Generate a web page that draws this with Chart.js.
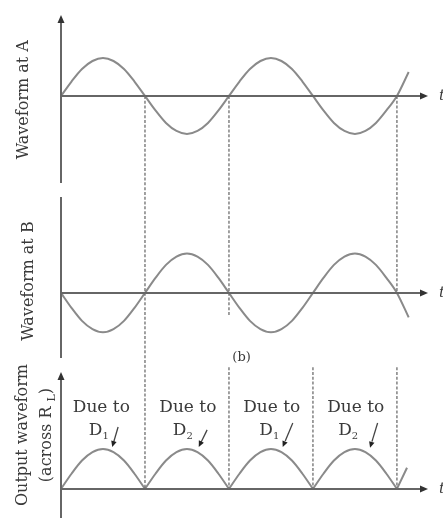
<!DOCTYPE html>
<html>
<head>
<meta charset="utf-8">
<script src="https://cdn.jsdelivr.net/npm/chart.js@4.4.0/dist/chart.umd.min.js"></script>
<style>
html,body{margin:0;padding:0;background:#fff;}
#wrap{position:relative;width:443px;height:520px;overflow:hidden;background:#fff;}
#wrap canvas{position:absolute;left:0;top:0;}
</style>
</head>
<body>
<div id="wrap">
<canvas id="cA" width="443" height="520"></canvas>
<canvas id="cB" width="443" height="520"></canvas>
<canvas id="cC" width="443" height="520"></canvas>
</div>
<script>
// ---- data (time in half-periods, amplitude in peak units) ----
const timeA = [0,0.125,0.25,0.375,0.5,0.625,0.75,0.875,1,1.125,1.25,1.375,1.5,1.625,1.75,1.875,
               2,2.125,2.25,2.375,2.5,2.625,2.75,2.875,3,3.125,3.25,3.375,3.5,3.625,3.75,3.875,4,4.14];
const waveformA = [0,0.38,0.71,0.92,1,0.92,0.71,0.38,0,-0.38,-0.71,-0.92,-1,-0.92,-0.71,-0.38,
                   0,0.38,0.71,0.92,1,0.92,0.71,0.38,0,-0.38,-0.71,-0.92,-1,-0.92,-0.71,-0.38,0,0.63];
const timeB = [0,0.125,0.25,0.375,0.5,0.625,0.75,0.875,1,1.125,1.25,1.375,1.5,1.625,1.75,1.875,
               2,2.125,2.25,2.375,2.5,2.625,2.75,2.875,3,3.125,3.25,3.375,3.5,3.625,3.75,3.875,4,4.14];
const waveformB = [0,-0.38,-0.71,-0.92,-1,-0.92,-0.71,-0.38,0,0.38,0.71,0.92,1,0.92,0.71,0.38,
                   0,-0.38,-0.71,-0.92,-1,-0.92,-0.71,-0.38,0,0.38,0.71,0.92,1,0.92,0.71,0.38,0,-0.62];
const timeOut = [0,0.125,0.25,0.375,0.5,0.625,0.75,0.875,1, 1,
                 1,1.125,1.25,1.375,1.5,1.625,1.75,1.875,2, 2,
                 2,2.125,2.25,2.375,2.5,2.625,2.75,2.875,3, 3,
                 3,3.125,3.25,3.375,3.5,3.625,3.75,3.875,4, 4,
                 4,4.12];
const waveformOut = [0,0.38,0.71,0.92,1,0.92,0.71,0.38,0, null,
                     0,0.38,0.71,0.92,1,0.92,0.71,0.38,0, null,
                     0,0.38,0.71,0.92,1,0.92,0.71,0.38,0, null,
                     0,0.38,0.71,0.92,1,0.92,0.71,0.38,0, null,
                     0,0.53];

const panelLabels = ['Waveform at A','Waveform at B','Output waveform'];
const outputSubLabel = ['(across R','L',')'];
const dueText = 'Due to';
const dueDiode = ['1','2','1','2'];
const dueTextX = [0.48,1.51,2.51,3.51];
const dueDX = [0.45,1.45,2.48,3.42];
const pointerFromX = [0.68,1.74,2.76,3.77];
const pointerFromY = [1.55,1.48,1.65,1.65];
const pointerToX = [0.61,1.64,2.64,3.68];
const pointerToY = [1.05,1.05,1.05,1.03];
// dashed guide lines: x position, start [panel,value], end [panel,value]
const guideX = [1,2,2,3,4,4];
const guideFrom = [['A',0],['A',0],['C',3.05],['C',3.05],['A',0],['C',3.05]];
const guideTo = [['C',0],['B',-0.56],['C',0],['C',0],['B',0],['C',0]];
const figureTag = '(b)';

// ---- styles ----
const CURVE = '#8a8a8a';
const AXIS = '#666';
const TEXT = '#3a3a3a';
const DASH = '#6e6e6e';
const SERIF = '"DejaVu Serif", serif';
const TMAX = 4.37;

function pts(xs, ys){ return xs.map((x,i)=>({x:x, y:ys[i]})); }

function arrowHead(ctx, tx, ty, dx, dy, len, half){
  const n = Math.hypot(dx,dy); dx/=n; dy/=n;
  const bx = tx - dx*len, by = ty - dy*len;
  ctx.beginPath();
  ctx.moveTo(tx,ty);
  ctx.lineTo(bx - dy*half, by + dx*half);
  ctx.lineTo(bx + dy*half, by - dx*half);
  ctx.closePath();
  ctx.fill();
}

function axesPlugin(arrowUp){
  return {
    id:'axesDraw',
    afterDatasetsDraw(chart){
      const {ctx, chartArea} = chart;
      const xs = chart.scales.x, ys = chart.scales.y;
      const x0 = xs.getPixelForValue(0), y0 = ys.getPixelForValue(0);
      const xe = xs.getPixelForValue(TMAX);
      ctx.save();
      ctx.strokeStyle = AXIS; ctx.fillStyle = '#333'; ctx.lineWidth = 2;
      ctx.beginPath(); ctx.moveTo(x0,y0); ctx.lineTo(xe-6,y0); ctx.stroke();
      arrowHead(ctx, xe, y0, 1, 0, 8, 3.5);
      ctx.beginPath();
      ctx.moveTo(x0, chartArea.top + (arrowUp?6:0));
      ctx.lineTo(x0, chartArea.bottom); ctx.stroke();
      if(arrowUp) arrowHead(ctx, x0, chartArea.top, 0, -1, 8, 3.5);
      ctx.fillStyle = TEXT;
      ctx.font = 'italic 15px ' + SERIF;
      ctx.textAlign='left'; ctx.textBaseline='middle';
      ctx.fillText('t', xe+11, y0);
      ctx.restore();
    }
  };
}

function rotText(ctx, str, x, y){
  ctx.save(); ctx.translate(x,y); ctx.rotate(-Math.PI/2);
  ctx.textAlign='center'; ctx.textBaseline='middle';
  ctx.fillText(str,0,0); ctx.restore();
}

function labelPlugin(text, offX, valY){
  return {
    id:'panelLabel',
    afterDraw(chart){
      const ctx = chart.ctx;
      ctx.save(); ctx.fillStyle = TEXT; ctx.font = '16px ' + SERIF;
      rotText(ctx, text, chart.chartArea.left + offX, chart.scales.y.getPixelForValue(valY));
      ctx.restore();
    }
  };
}

function makeChart(id, data, yMin, yMax, padTop, padBottom, plugins){
  return new Chart(document.getElementById(id), {
    type:'line',
    data:{ datasets:[{ data:data, borderColor:CURVE, borderWidth:2, pointRadius:0,
      cubicInterpolationMode:'monotone', spanGaps:false, fill:false }]},
    options:{
      responsive:false, animation:false, events:[],
      layout:{ padding:{ left:61, right:15, top:padTop, bottom:padBottom } },
      scales:{
        x:{ type:'linear', min:0, max:TMAX, display:false },
        y:{ type:'linear', min:yMin, max:yMax, display:false }
      },
      plugins:{ legend:{display:false}, tooltip:{enabled:false} }
    },
    plugins: plugins
  });
}

const chartA = makeChart('cA', pts(timeA, waveformA), -2.29, 2.13, 15, 337,
  [axesPlugin(true), labelPlugin(panelLabels[0], -37, -0.1)]);
const chartB = makeChart('cB', pts(timeB, waveformB), -1.65, 2.43, 197, 162,
  [axesPlugin(false), labelPlugin(panelLabels[1], -32, 0.3)]);

const overlayPlugin = {
  id:'overlay',
  afterDraw(chart){
    const ctx = chart.ctx;
    const xs = chart.scales.x, ys = chart.scales.y;
    const scaleOf = {A: chartA.scales.y, B: chartB.scales.y, C: ys};
    ctx.save();
    // dashed guides
    ctx.strokeStyle = DASH; ctx.lineWidth = 1.3; ctx.setLineDash([3,1.8]);
    guideX.forEach((gx,i)=>{
      const px = xs.getPixelForValue(gx);
      const f = guideFrom[i], t = guideTo[i];
      ctx.beginPath();
      ctx.moveTo(px, scaleOf[f[0]].getPixelForValue(f[1]));
      ctx.lineTo(px, scaleOf[t[0]].getPixelForValue(t[1]));
      ctx.stroke();
    });
    ctx.setLineDash([]);
    // labels
    ctx.fillStyle = TEXT;
    ctx.font = '16px ' + SERIF;
    const lx = chart.chartArea.left;
    rotText(ctx, panelLabels[2], lx - 38, ys.getPixelForValue(1.35));
    // (across R_L)
    ctx.save();
    ctx.translate(lx - 14, ys.getPixelForValue(1.35)); ctx.rotate(-Math.PI/2);
    ctx.textBaseline='middle'; ctx.textAlign='left';
    ctx.font = '16px ' + SERIF;
    const w1 = ctx.measureText(outputSubLabel[0] + ' ').width;
    ctx.font = '11px ' + SERIF;
    const w2 = ctx.measureText(outputSubLabel[1]).width;
    ctx.font = '16px ' + SERIF;
    const w3 = ctx.measureText(outputSubLabel[2]).width;
    let sx = -(w1+w2+w3)/2;
    ctx.fillText(outputSubLabel[0] + ' ', sx, 0); sx += w1;
    ctx.font = '11px ' + SERIF; ctx.fillText(outputSubLabel[1], sx, 5); sx += w2;
    ctx.font = '16px ' + SERIF; ctx.fillText(outputSubLabel[2], sx, 0);
    ctx.restore();
    // (b)
    ctx.font = '13px ' + SERIF; ctx.textAlign='center'; ctx.textBaseline='middle';
    ctx.fillText(figureTag, xs.getPixelForValue(2.15), ys.getPixelForValue(3.3));
    // Due to labels
    dueTextX.forEach((dx,i)=>{
      ctx.font = '17px ' + SERIF; ctx.textAlign='center'; ctx.textBaseline='middle';
      ctx.fillText(dueText, xs.getPixelForValue(dx), ys.getPixelForValue(2.03));
      const cx = xs.getPixelForValue(dueDX[i]), cy = ys.getPixelForValue(1.45);
      ctx.font = '17px ' + SERIF; const wd = ctx.measureText('D').width;
      ctx.font = '10px ' + SERIF; const ws = ctx.measureText(dueDiode[i]).width;
      const start = cx - (wd+ws)/2;
      ctx.textAlign='left';
      ctx.font = '17px ' + SERIF; ctx.fillText('D', start, cy);
      ctx.font = '10px ' + SERIF; ctx.fillText(dueDiode[i], start+wd, cy+5);
      // pointer
      const fx = xs.getPixelForValue(pointerFromX[i]), fy = ys.getPixelForValue(pointerFromY[i]);
      const tx = xs.getPixelForValue(pointerToX[i]), ty = ys.getPixelForValue(pointerToY[i]);
      ctx.strokeStyle = '#444'; ctx.lineWidth = 1.3;
      ctx.beginPath(); ctx.moveTo(fx,fy); ctx.lineTo(tx+(fx-tx)*0.25, ty+(fy-ty)*0.25); ctx.stroke();
      ctx.fillStyle = '#222';
      arrowHead(ctx, tx, ty, tx-fx, ty-fy, 6, 2.8);
      ctx.fillStyle = TEXT;
    });
    ctx.restore();
  }
};

const chartC = makeChart('cC', pts(timeOut, waveformOut), -0.73, 2.93, 372, 2,
  [axesPlugin(true), overlayPlugin]);
</script>
</body>
</html>
